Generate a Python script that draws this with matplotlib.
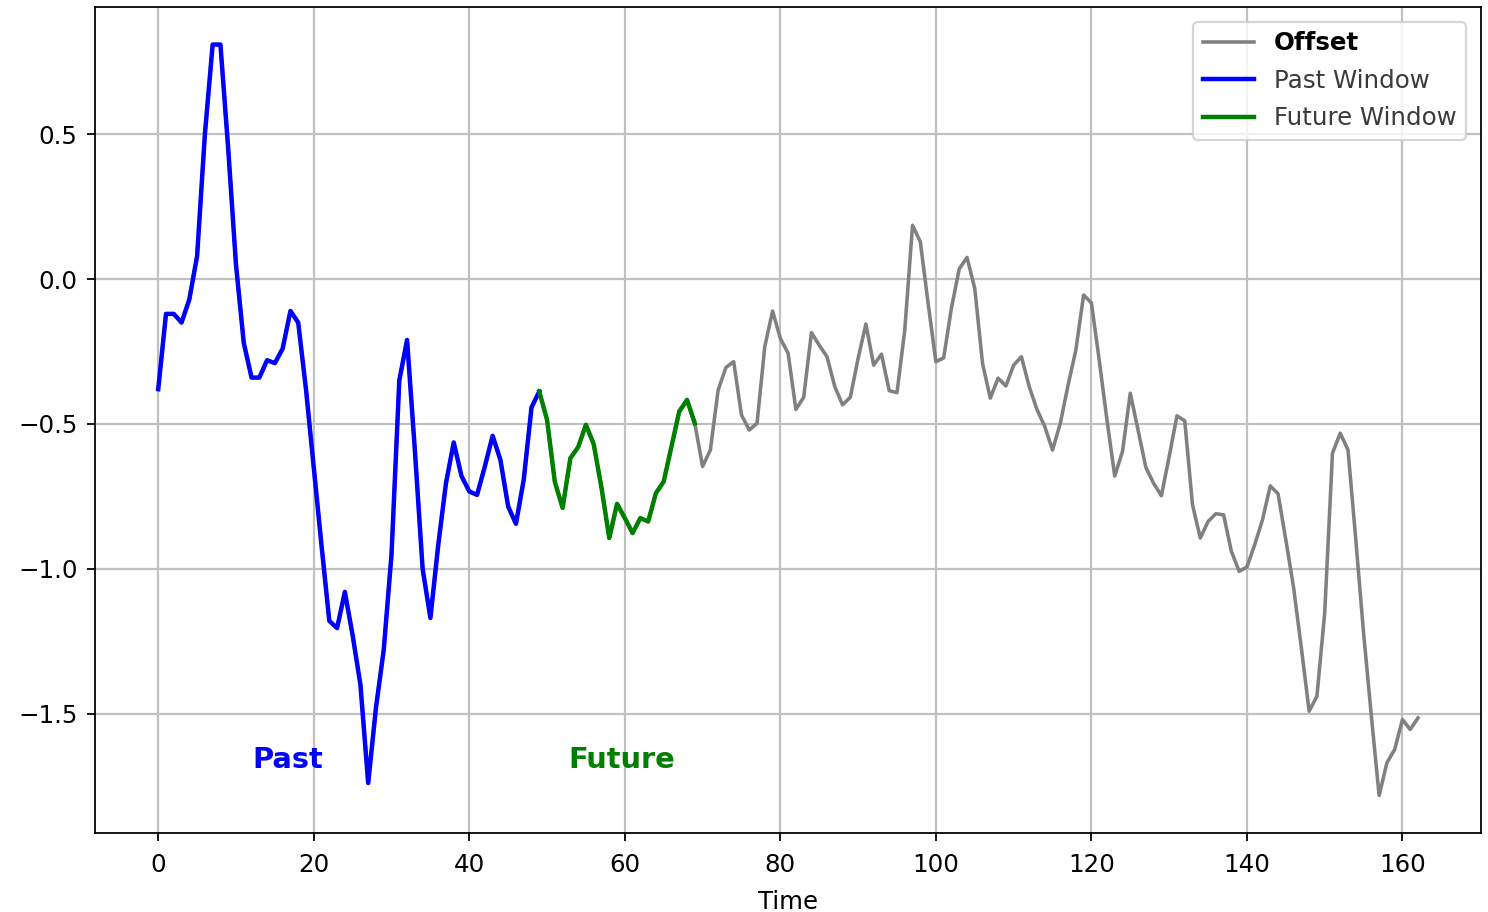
import numpy as np
import matplotlib
matplotlib.use("Agg")
import matplotlib.pyplot as plt

# series values (one per time step)
offset = [
    -0.38, -0.12, -0.12, -0.15, -0.07, 0.08, 0.50, 0.81, 0.81, 0.45,
    0.05, -0.22, -0.34, -0.34, -0.28, -0.29, -0.24, -0.11, -0.15, -0.38,
    -0.65, -0.92, -1.18, -1.205, -1.08, -1.23, -1.40, -1.74, -1.48, -1.28,
    -0.95, -0.35, -0.21, -0.59, -1.00, -1.17, -0.92, -0.705, -0.564, -0.68,
    -0.733, -0.745, -0.647, -0.541, -0.624, -0.785, -0.845, -0.693, -0.443, -0.388,
    -0.486, -0.70, -0.79, -0.618, -0.58, -0.503, -0.57, -0.72, -0.894, -0.776,
    -0.825, -0.877, -0.825, -0.837, -0.739, -0.699, -0.578, -0.457, -0.417, -0.498,
    -0.647, -0.59, -0.383, -0.305, -0.285, -0.469, -0.521, -0.498, -0.233, -0.11,
    -0.205, -0.256, -0.45, -0.408, -0.185, -0.228, -0.268, -0.371, -0.434, -0.408,
    -0.274, -0.155, -0.297, -0.259, -0.385, -0.392, -0.176, 0.186, 0.129, -0.083,
    -0.285, -0.272, -0.10, 0.035, 0.075, -0.032, -0.291, -0.411, -0.342, -0.369,
    -0.297, -0.268, -0.371, -0.45, -0.509, -0.59, -0.498, -0.366, -0.245, -0.055,
    -0.082, -0.279, -0.486, -0.68, -0.595, -0.394, -0.521, -0.65, -0.705, -0.748,
    -0.613, -0.472, -0.489, -0.779, -0.894, -0.837, -0.81, -0.814, -0.94, -1.009,
    -0.994, -0.917, -0.831, -0.714, -0.741, -0.90, -1.065, -1.274, -1.492, -1.44,
    -1.153, -0.601, -0.532, -0.59, -0.90, -1.222, -1.509, -1.783, -1.67, -1.624,
    -1.521, -1.555, -1.515,
]
time = np.arange(len(offset))
past_start, past_end = 0, 49      # inclusive
future_start, future_end = 49, 69

plt.rcParams['font.size'] = 11

fig = plt.figure(figsize=(9.3, 5.7), dpi=160)
ax = fig.add_axes([0.064, 0.0866, 0.9313, 0.9057])

ax.plot(time, offset, color='gray', lw=1.6, label='Offset')
ax.plot(time[past_start:past_end + 1], offset[past_start:past_end + 1],
        color='blue', lw=2, label='Past Window')
ax.plot(time[future_start:future_end + 1], offset[future_start:future_end + 1],
        color='green', lw=2, label='Future Window')

ax.text(16.7, -1.66, 'Past', color='blue', fontsize=13, fontweight='bold',
        ha='center', va='center')
ax.text(59.6, -1.66, 'Future', color='green', fontsize=13, fontweight='bold',
        ha='center', va='center')

ax.set_xticks(np.arange(0, 161, 20))
ax.set_yticks([-1.5, -1.0, -0.5, 0.0, 0.5])
ax.tick_params(axis='x', pad=5.5)
ax.tick_params(axis='y', pad=4.5)
ax.set_xlabel('Time', labelpad=6)
ax.grid(True, color='#c0c0c0', lw=1.0)

leg = ax.legend(loc='upper right', fontsize=11, labelspacing=0.55,
                handlelength=2.1, borderaxespad=0.6)
texts = leg.get_texts()
texts[0].set_fontweight('bold')
texts[0].set_color('black')
for t in texts[1:]:
    t.set_color('#3a3a3a')

fig.savefig('out.png', dpi=160)
